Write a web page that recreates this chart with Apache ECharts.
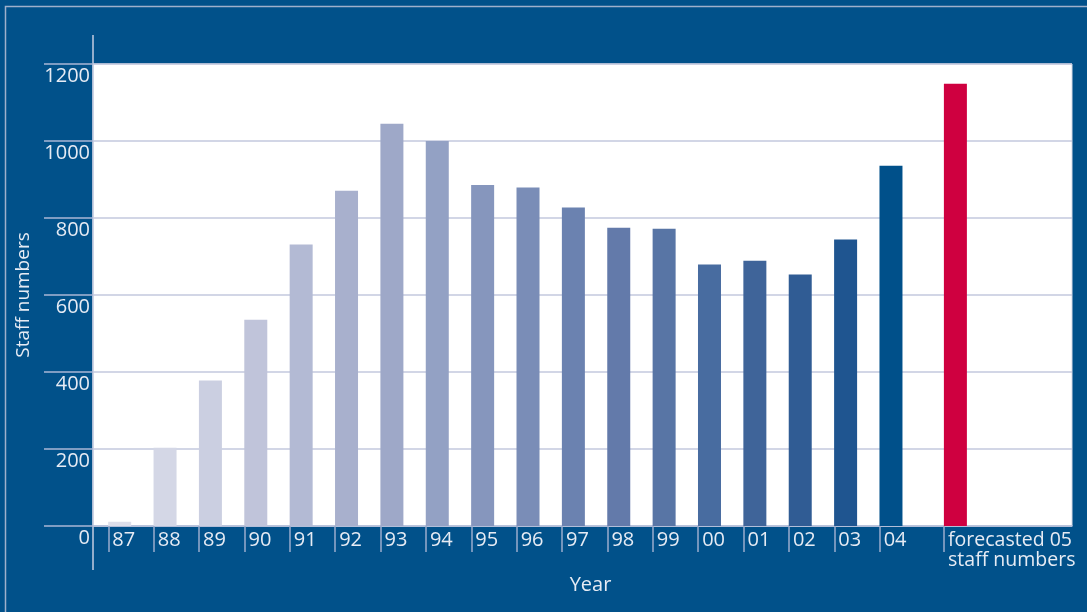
<!DOCTYPE html>
<html>
<head>
<meta charset="utf-8">
<script src="https://cdn.jsdelivr.net/npm/echarts@6/dist/echarts.min.js"></script>
<style>
  html, body { margin: 0; padding: 0; background: #01518a; }
  #chart { width: 1087px; height: 612px; }
</style>
</head>
<body>
<div id="chart"></div>
<script>
// data
const years = ['87', '88', '89', '90', '91', '92', '93', '94', '95', '96', '97', '98', '99', '00', '01', '02', '03', '04']
const staff = [11, 203, 378, 536, 731, 871, 1045, 1000, 886, 879, 827, 775, 772, 679, 689, 653, 744, 936]
const forecastLabel = 'forecasted 05\nstaff numbers'
const forecastValue = 1149
const yTicks = [0, 200, 400, 600, 800, 1000, 1200]

// bar colours, light to dark
const barColors = ['#dcdeea', '#d4d7e6', '#cbcfe1', '#c0c4da', '#b3bad4', '#a8b0cd', '#9ea8c8', '#93a1c4',
  '#8696bd', '#7a8db7', '#6b82b0', '#637aaa', '#5875a5', '#486ca0', '#3f6499', '#305c94', '#1f5590', '#00508a']
const forecastColor = '#cf0040'

// x positions (the forecast bar sits a bit further out)
const positions = years.map((_, i) => i)
const forecastPos = 18.42
const tickShift = -0.25

const allLabels = years.concat([forecastLabel])
const tickValues = positions.concat([forecastPos]).map(p => p + tickShift)

const barData = staff.map((v, i) => ({ value: [positions[i], v], itemStyle: { color: barColors[i] } }))
barData.push({ value: [forecastPos, forecastValue], itemStyle: { color: forecastColor } })

const font = '"Open Sans", "Noto Sans", sans-serif'
const textColor = '#e6ebf4'

const chart = echarts.init(document.getElementById('chart'))

chart.setOption({
  backgroundColor: '#01518a',
  animation: false,
  textStyle: { fontFamily: font },
  grid: {
    left: 93,
    right: 15,
    top: 64,
    bottom: 86,
    show: true,
    backgroundColor: '#ffffff',
    borderColor: '#d6dae6',
    borderWidth: 1
  },
  xAxis: {
    type: 'value',
    min: -0.588,
    max: 20.99,
    name: 'Year',
    nameLocation: 'middle',
    nameGap: 38,
    nameTextStyle: { color: textColor, fontSize: 20, fontFamily: font, padding: [0, 0, 0, 16] },
    axisLine: { show: true, onZero: false, lineStyle: { color: '#b4c0da', width: 1.5 } },
    axisTick: {
      show: true,
      customValues: tickValues,
      length: 26,
      lineStyle: { color: '#9aaccd', width: 1.5 }
    },
    axisLabel: {
      customValues: tickValues,
      color: textColor,
      fontSize: 20,
      fontFamily: font,
      align: 'left',
      lineHeight: 20,
      margin: 4,
      padding: [0, 0, 0, 4],
      formatter: function (val) {
        let best = 0
        tickValues.forEach((t, i) => {
          if (Math.abs(t - val) < Math.abs(tickValues[best] - val)) best = i
        })
        const txt = allLabels[best]
        return best === years.length ? '{f|' + txt.split('\n').join('}\n{f|') + '}' : txt
      },
      rich: {
        f: { color: textColor, fontSize: 19.5, fontFamily: font, lineHeight: 20 }
      }
    },
    splitLine: { show: false }
  },
  yAxis: {
    type: 'value',
    min: 0,
    max: 1200,
    interval: 200,
    name: 'Staff numbers',
    nameLocation: 'middle',
    nameGap: 56,
    nameTextStyle: { color: textColor, fontSize: 19, fontFamily: font },
    axisLine: { show: false, onZero: false },
    axisTick: { show: true, inside: false, length: 49, lineStyle: { color: '#a9b7d6', width: 1.5 } },
    axisLabel: {
      color: textColor,
      fontSize: 20,
      fontFamily: font,
      margin: 3,
      verticalAlign: 'top',
      lineHeight: 24,
      customValues: yTicks,
      formatter: function (v) { return String(v) }
    },
    splitLine: { show: true, lineStyle: { color: '#c3c8de', width: 1.5 } }
  },
  graphic: [
    {
      type: 'rect',
      silent: true,
      shape: { x: 5.5, y: 6.5, width: 1200, height: 800 },
      style: { fill: 'none', stroke: '#9fb0cb', lineWidth: 1.5 }
    },
    {
      type: 'line',
      silent: true,
      shape: { x1: 93, y1: 35, x2: 93, y2: 570 },
      style: { stroke: '#c5cde0', lineWidth: 1.5 }
    }
  ],
  series: [
    {
      type: 'bar',
      barWidth: 23,
      data: barData
    }
  ]
})
</script>
</body>
</html>
